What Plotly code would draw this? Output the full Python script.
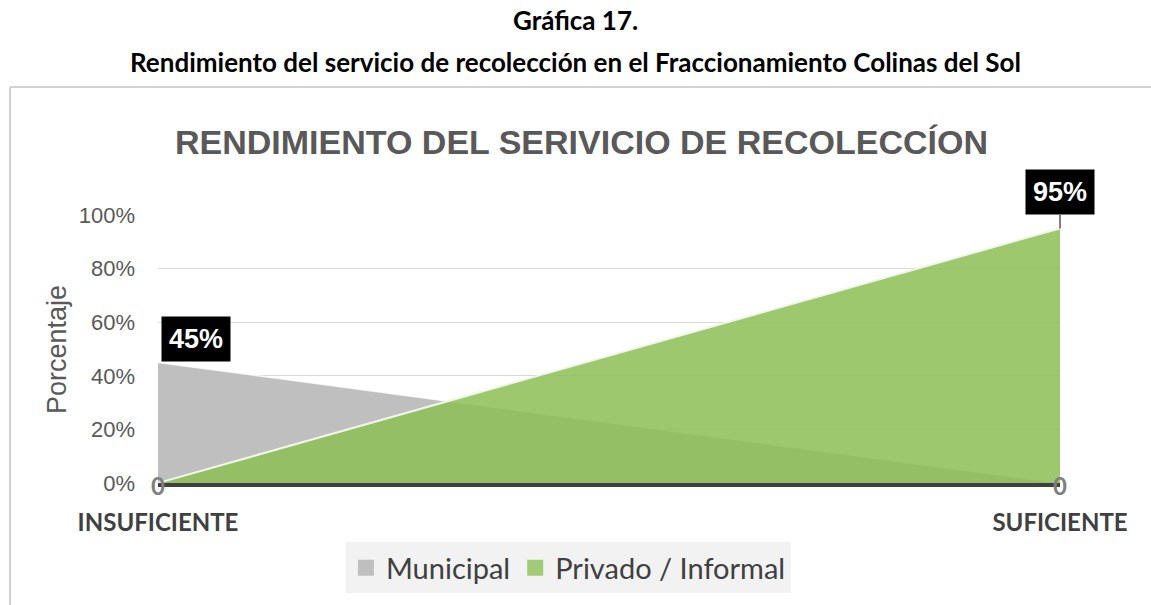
import plotly.graph_objects as go

categories = ["INSUFICIENTE", "SUFICIENTE"]
municipal = [0.45, 0.0]
privado = [0.0, 0.95]
series_names = ["Municipal", "Privado / Informal"]
legend_colors = ["#BFBFBF", "#A2CB78"]
y_ticks = [0, 0.2, 0.4, 0.6, 0.8, 1.0]

fig = go.Figure()
fig.add_trace(go.Scatter(
    x=categories, y=municipal, name=series_names[0], mode="lines", showlegend=False,
    fill="tozeroy", fillcolor="#BFBFBF",
    line=dict(color="rgba(255,255,255,0.8)", width=1.5),
))
fig.add_trace(go.Scatter(
    x=categories, y=privado, name=series_names[1], mode="lines", showlegend=False,
    fill="tozeroy", fillcolor="rgba(140,190,85,0.85)",
    line=dict(color="rgba(240,245,235,1)", width=2),
))
# legend entries with square swatches
for name, col in zip(series_names, legend_colors):
    fig.add_trace(go.Scatter(
        x=[None], y=[None], name=name, mode="markers",
        marker=dict(symbol="square", size=18, color=col),
    ))

annotations = []
for vals in (municipal, privado):
    for cat, v in zip(categories, vals):
        if v == 0:
            annotations.append(dict(
                x=cat, y=v, xref="x", yref="y", text="<b>0</b>", showarrow=False,
                font=dict(family="Lato", size=24, color="#7F7F7F"),
                xanchor="center", yanchor="middle", yshift=-2,
            ))
        elif cat == categories[0]:
            annotations.append(dict(
                x=cat, y=v, xref="x", yref="y", text="<b>%d%%</b>" % round(v * 100),
                showarrow=False, bgcolor="black", borderpad=7,
                font=dict(family="Liberation Sans", size=27, color="white"),
                xanchor="left", yanchor="bottom", xshift=3, yshift=0,
            ))
        else:
            annotations.append(dict(
                x=cat, y=v, xref="x", yref="y", text="<b>%d%%</b>" % round(v * 100),
                showarrow=True, arrowhead=0, arrowwidth=2, arrowcolor="#7F7F7F",
                ax=0, ay=-36, bgcolor="black", borderpad=7,
                font=dict(family="Liberation Sans", size=27, color="white"),
            ))

# headings
annotations += [
    dict(text="<b>Gráfica 17.</b>", xref="paper", yref="paper", x=0.463, y=1.7276,
         showarrow=False, xanchor="center", yanchor="middle",
         font=dict(family="Lato", size=26, color="black")),
    dict(text="<b>Rendimiento del servicio de recolección en el Fraccionamiento Colinas del Sol</b>",
         xref="paper", yref="paper", x=0.463, y=1.571, showarrow=False,
         xanchor="center", yanchor="middle", font=dict(family="Lato", size=26, color="black")),
    dict(text="<b>RENDIMIENTO DEL SERIVICIO DE RECOLECCÍON</b>", xref="paper", yref="paper",
         x=0.470, y=1.272, showarrow=False, xanchor="center", yanchor="middle",
         font=dict(family="Liberation Sans", size=34, color="#595959")),
    dict(text="Porcentaje", xref="paper", yref="paper", x=-0.112, y=0.5,
         showarrow=False, textangle=-90, xanchor="center", yanchor="middle",
         font=dict(family="Liberation Sans", size=27, color="#595959")),
]

shapes = [
    dict(type="line", xref="paper", yref="paper", x0=-0.164, x1=-0.164, y0=1.4776, y1=-0.5,
         line=dict(color="#D0D0D0", width=2)),
    dict(type="line", xref="paper", yref="paper", x0=-0.164, x1=1.2, y0=1.4776, y1=1.4776,
         line=dict(color="#D0D0D0", width=2)),
]

fig.update_layout(
    width=1151, height=605,
    margin=dict(l=158, r=91, t=215, b=122),
    paper_bgcolor="white", plot_bgcolor="white",
    showlegend=True,
    legend=dict(orientation="h", x=0.455, xanchor="center", y=-0.317, yanchor="middle",
                bgcolor="#F2F2F2", font=dict(family="Lato", size=29, color="#404040"),
                itemwidth=30, tracegroupgap=0),
    annotations=annotations, shapes=shapes,
)
fig.update_xaxes(
    type="category", range=[0, 1], showgrid=False, showline=True, linecolor="#404040",
    linewidth=4, ticks="", ticklabelstandoff=15,
    tickfont=dict(family="Lato", size=24, color="#404040"),
    tickprefix="<b>", ticksuffix="</b>",
)
fig.update_yaxes(
    range=[0, 1], tickvals=y_ticks, tickformat=".0%", showgrid=True, gridcolor="#D9D9D9",
    gridwidth=1, zeroline=False, showline=False, ticklabelstandoff=22,
    tickfont=dict(family="Liberation Sans", size=22, color="#595959"),
)

fig.write_html("out.html", config={"displayModeBar": False},
               post_script="document.body.style.margin='0';")
